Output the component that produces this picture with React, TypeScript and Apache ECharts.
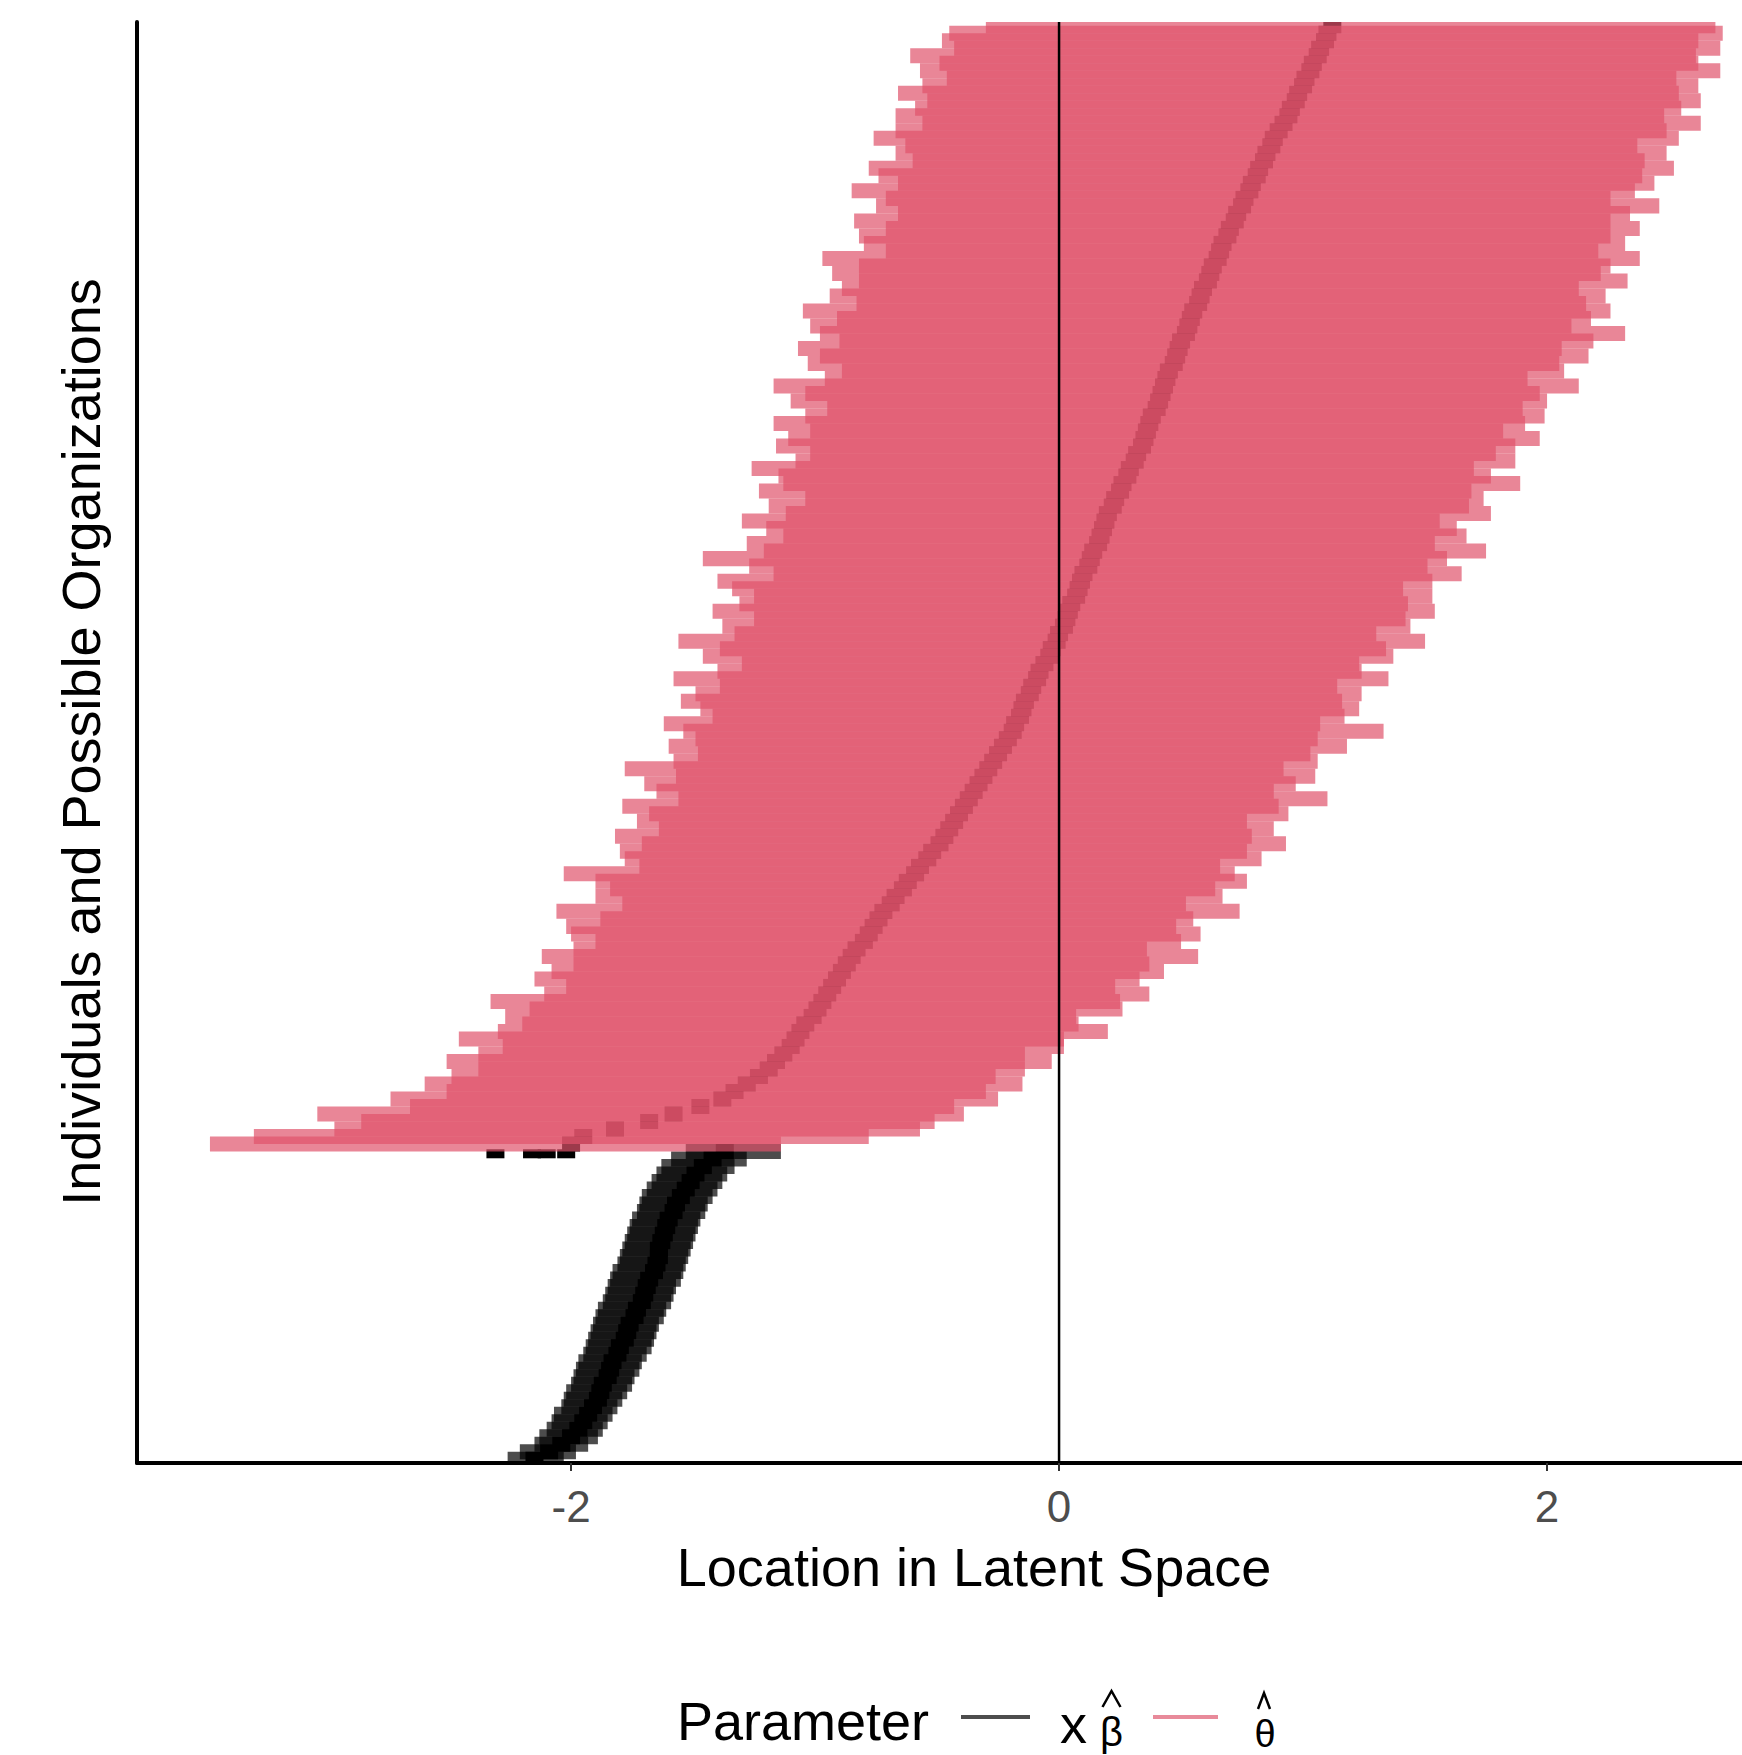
import React, { useEffect, useRef } from "react";
import * as echarts from "echarts";

// ---- data ----
// theta-hat intervals (pink rows), lowest row first
const thetaLow = [
  -3.48, -3.30, -2.97, -2.86, -3.04, -2.66, -2.74, -2.51, -2.60, -2.49,
  -2.38, -2.51, -2.38, -2.28, -2.46, -2.30, -2.20, -2.27, -2.17, -2.33,
  -2.11, -2.02, -2.15, -2.08, -1.99, -2.12, -1.99, -1.90, -2.00, -2.02,
  -1.88, -2.06, -1.79, -1.90, -1.84, -1.90, -2.03, -1.72, -1.78, -1.80,
  -1.71, -1.82, -1.64, -1.73, -1.68, -1.79, -1.56, -1.65, -1.70, -1.57,
  -1.78, -1.58, -1.48, -1.60, -1.49, -1.54, -1.62, -1.42, -1.47, -1.55,
  -1.49, -1.39, -1.58, -1.40, -1.30, -1.46, -1.39, -1.56, -1.33, -1.38,
  -1.25, -1.42, -1.31, -1.25, -1.34, -1.40, -1.17, -1.27, -1.46, -1.21,
  -1.28, -1.13, -1.20, -1.30, -1.12, -1.19, -1.04, -1.23, -1.13, -1.15,
  -1.26, -1.08, -1.02, -1.16, -1.11, -1.02, -1.17, -1.04, -0.95, -1.10,
  -1.04, -1.17, -0.96, -0.89, -1.03, -0.98, -1.07, -0.90, -0.98, -1.02,
  -0.91, -1.05, -0.83, -0.94, -0.89, -0.82, -0.93, -0.82, -0.97, -0.71,
  -0.80, -0.82, -0.71, -0.84, -0.66, -0.75, -0.71, -0.85, -0.66, -0.74,
  -0.78, -0.60, -0.67, -0.63, -0.76, -0.67, -0.56, -0.67, -0.59, -0.54,
  -0.66, -0.56, -0.46, -0.57, -0.49, -0.61, -0.43, -0.48, -0.45, -0.30,
];
const thetaHigh = [
  -1.14, -0.78, -0.57, -0.51, -0.39, -0.43, -0.25, -0.30, -0.15, -0.26,
  -0.14, -0.03, -0.14, 0.02, 0.02, 0.20, 0.08, 0.07, 0.26, 0.25,
  0.37, 0.23, 0.33, 0.43, 0.37, 0.57, 0.36, 0.50, 0.58, 0.48,
  0.55, 0.74, 0.52, 0.67, 0.64, 0.77, 0.72, 0.66, 0.83, 0.77,
  0.93, 0.79, 0.88, 0.77, 0.94, 0.90, 1.10, 0.88, 0.97, 1.05,
  0.92, 1.06, 1.03, 1.18, 1.06, 1.33, 1.07, 1.17, 1.23, 1.16,
  1.24, 1.14, 1.35, 1.24, 1.23, 1.37, 1.34, 1.50, 1.30, 1.44,
  1.42, 1.54, 1.43, 1.53, 1.41, 1.53, 1.65, 1.51, 1.59, 1.75,
  1.54, 1.67, 1.63, 1.56, 1.77, 1.68, 1.74, 1.69, 1.89, 1.77,
  1.70, 1.87, 1.79, 1.87, 1.97, 1.82, 1.91, 1.99, 1.90, 2.00,
  1.97, 2.13, 1.92, 2.07, 2.05, 2.17, 2.06, 2.19, 2.32, 2.10,
  2.18, 2.26, 2.16, 2.24, 2.13, 2.33, 2.22, 2.26, 2.38, 2.21,
  2.32, 2.26, 2.38, 2.26, 2.34, 2.46, 2.26, 2.36, 2.44, 2.39,
  2.52, 2.40, 2.49, 2.37, 2.54, 2.49, 2.63, 2.48, 2.55, 2.63,
  2.54, 2.62, 2.53, 2.71, 2.62, 2.61, 2.71, 2.62, 2.72, 2.69,
];
// point estimates of the pink rows (drawn in black, seen through the pink)
const thetaEst = [
  -2.00, -1.95, -1.82, -1.68, -1.58, -1.47, -1.38, -1.33, -1.28, -1.23,
  -1.19, -1.16, -1.13, -1.10, -1.08, -1.06, -1.04, -1.01, -0.99, -0.97,
  -0.95, -0.93, -0.91, -0.89, -0.87, -0.85, -0.83, -0.80, -0.78, -0.76,
  -0.74, -0.72, -0.69, -0.67, -0.64, -0.62, -0.59, -0.57, -0.54, -0.52,
  -0.49, -0.47, -0.45, -0.43, -0.41, -0.39, -0.37, -0.35, -0.33, -0.31,
  -0.29, -0.27, -0.25, -0.23, -0.21, -0.19, -0.18, -0.16, -0.15, -0.14,
  -0.12, -0.11, -0.09, -0.08, -0.06, -0.04, -0.03, -0.01, 0.00, 0.02,
  0.03, 0.04, 0.05, 0.07, 0.08, 0.09, 0.10, 0.12, 0.13, 0.14,
  0.16, 0.17, 0.18, 0.19, 0.20, 0.22, 0.23, 0.25, 0.26, 0.28,
  0.29, 0.31, 0.32, 0.34, 0.35, 0.36, 0.37, 0.38, 0.40, 0.41,
  0.42, 0.43, 0.44, 0.45, 0.47, 0.48, 0.49, 0.50, 0.52, 0.53,
  0.54, 0.55, 0.57, 0.58, 0.59, 0.61, 0.62, 0.63, 0.65, 0.66,
  0.67, 0.69, 0.70, 0.72, 0.73, 0.75, 0.76, 0.78, 0.79, 0.81,
  0.82, 0.84, 0.85, 0.87, 0.88, 0.90, 0.92, 0.94, 0.95, 0.97,
  0.98, 1.00, 1.01, 1.03, 1.04, 1.06, 1.07, 1.09, 1.10, 1.12,
];
// X beta-hat intervals (black rows), lowest row first
const xbLow = [
  -2.26, -2.21, -2.15, -2.13, -2.10, -2.08, -2.07, -2.04, -2.03, -2.02,
  -2.00, -1.99, -1.98, -1.97, -1.95, -1.94, -1.93, -1.92, -1.91, -1.90,
  -1.89, -1.87, -1.86, -1.85, -1.84, -1.83, -1.81, -1.80, -1.79, -1.78,
  -1.77, -1.76, -1.75, -1.73, -1.72, -1.71, -1.69, -1.67, -1.65, -1.63,
  -1.59, -1.53,
];
const xbHigh = [
  -2.03, -1.98, -1.93, -1.89, -1.87, -1.85, -1.83, -1.81, -1.79, -1.77,
  -1.75, -1.74, -1.72, -1.71, -1.69, -1.67, -1.66, -1.65, -1.64, -1.62,
  -1.61, -1.59, -1.58, -1.57, -1.55, -1.54, -1.53, -1.52, -1.51, -1.50,
  -1.49, -1.48, -1.47, -1.45, -1.44, -1.42, -1.40, -1.38, -1.36, -1.33,
  -1.28, -1.14,
];
const xbEst = [
  -2.15, -2.09, -2.04, -2.00, -1.97, -1.95, -1.93, -1.91, -1.89, -1.88,
  -1.87, -1.85, -1.84, -1.83, -1.81, -1.80, -1.78, -1.77, -1.76, -1.74,
  -1.73, -1.71, -1.70, -1.69, -1.68, -1.66, -1.65, -1.64, -1.64, -1.63,
  -1.62, -1.61, -1.60, -1.58, -1.57, -1.55, -1.53, -1.51, -1.49, -1.46,
  -1.42, -1.37,
];
// stray black points just under the lowest pink row
const strayDots = [-2.31, -2.16, -2.10, -2.02];
const xTicks = [-2, 0, 2];
const xMin = -3.779;
const xMax = 2.799;
const vlineX = 0;

const FONT = "'Liberation Sans', Arial, Helvetica, sans-serif";

export default function App() {
  const ref = useRef<HTMLDivElement>(null);

  useEffect(() => {
    document.body.style.margin = "0";
    if (!ref.current) return;
    const chart = echarts.init(ref.current, null, { renderer: "svg" });

    const nB = Math.min(xbLow.length, xbHigh.length, xbEst.length);
    const nP = Math.min(thetaLow.length, thetaHigh.length, thetaEst.length);
    const N = nB + nP;
    const yMin = -0.5;
    const yMax = N - 0.5;

    const xbIntervals = [];
    const xbPoints = [];
    for (let j = 0; j < nB; j++) {
      xbIntervals.push([xbLow[j], xbHigh[j], j]);
      xbPoints.push([xbEst[j], j, 2]);
    }
    const thIntervals = [];
    const thPoints = [];
    for (let k = 0; k < nP; k++) {
      thIntervals.push([thetaLow[k], thetaHigh[k], nB + k]);
      thPoints.push([thetaEst[k], nB + k, 2]);
    }
    const strayPoints = strayDots.map((v) => [v, nB - 1.3, 1.2]);

    const intervalRender = (fill: string) => (params: any, api: any) => {
      const yv = api.value(2);
      const p0 = api.coord([api.value(0), yv]);
      const p1 = api.coord([api.value(1), yv]);
      const h = api.size([0, 1])[1] * 2;
      return {
        type: "rect",
        shape: { x: p0[0], y: p0[1] - h / 2, width: Math.max(p1[0] - p0[0], 1), height: h },
        style: { fill },
      };
    };
    const pointRender = (params: any, api: any) => {
      const c = api.coord([api.value(0), api.value(1)]);
      const h = api.size([0, 1])[1] * api.value(2);
      return {
        type: "rect",
        shape: { x: c[0] - 9, y: c[1] - h / 2, width: 18, height: h },
        style: { fill: "#000000" },
      };
    };

    const txt = (text: string, x: number, y: number, size: number, align: string, extra?: any) => ({
      type: "text",
      x,
      y,
      ...(extra || {}),
      style: {
        text,
        fontSize: size,
        fontFamily: FONT,
        fill: "#000000",
        align,
        verticalAlign: "middle",
      },
    });
    // plotmath-style hat accent, drawn as a chevron
    const hat = (cx: number, top: number, halfW: number, h: number) => ({
      type: "polyline",
      shape: { points: [[cx - halfW, top + h], [cx, top], [cx + halfW, top + h]] },
      style: { stroke: "#000000", lineWidth: 2.5, fill: "none" },
    });

    const option: any = {
      animation: false,
      backgroundColor: "#ffffff",
      grid: { left: 137, right: 0, top: 22, bottom: 292, containLabel: false },
      xAxis: {
        type: "value",
        min: xMin,
        max: xMax,
        axisLine: { show: true, onZero: false, lineStyle: { color: "#000000", width: 4 } },
        axisTick: { show: true, customValues: xTicks, length: 8, lineStyle: { color: "#333333", width: 2 } },
        axisLabel: {
          show: true,
          customValues: xTicks,
          fontSize: 44,
          lineHeight: 44,
          fontFamily: FONT,
          color: "#4D4D4D",
          margin: 21,
        },
        splitLine: { show: false },
      },
      yAxis: {
        type: "value",
        min: yMin,
        max: yMax,
        axisLine: { show: true, onZero: false, lineStyle: { color: "#000000", width: 4 } },
        axisTick: { show: false },
        axisLabel: { show: false },
        splitLine: { show: false },
      },
      series: [
        {
          type: "custom",
          name: "xbInterval",
          clip: true,
          z: 2,
          renderItem: intervalRender("rgba(0,0,0,0.7)"),
          encode: { x: [0, 1], y: 2 },
          data: xbIntervals,
        },
        {
          type: "custom",
          name: "points",
          clip: true,
          z: 3,
          renderItem: pointRender,
          encode: { x: 0, y: 1 },
          data: [...xbPoints, ...strayPoints, ...thPoints],
        },
        {
          type: "custom",
          name: "theta",
          clip: true,
          z: 4,
          renderItem: intervalRender("rgba(223,83,107,0.7)"),
          encode: { x: [0, 1], y: 2 },
          data: thIntervals,
        },
        {
          type: "line",
          name: "vline",
          z: 5,
          symbol: "none",
          silent: true,
          lineStyle: { color: "#000000", width: 2.5 },
          data: [
            [vlineX, yMin],
            [vlineX, yMax],
          ],
        },
      ],
      graphic: [
        txt("Location in Latent Space", 974, 1567, 54, "center"),
        txt("Individuals and Possible Organizations", 81, 742, 54, "center", { rotation: Math.PI / 2 }),
        txt("Parameter", 677, 1721, 54, "left"),
        {
          type: "line",
          shape: { x1: 961, y1: 1717, x2: 1030, y2: 1717 },
          style: { stroke: "#4D4D4D", lineWidth: 4 },
        },
        txt("x", 1060, 1724, 54, "left"),
        txt("β", 1111.5, 1732, 40, "center"),
        hat(1111.5, 1691, 9, 16),
        {
          type: "line",
          shape: { x1: 1153, y1: 1717, x2: 1218, y2: 1717 },
          style: { stroke: "#E88A9A", lineWidth: 4 },
        },
        hat(1264, 1693, 6, 16),
        txt("θ", 1265, 1734, 38, "center"),
      ],
    };

    chart.setOption(option);
    return () => {
      chart.dispose();
    };
  }, []);

  return <div ref={ref} style={{ width: 1742, height: 1755 }} />;
}
